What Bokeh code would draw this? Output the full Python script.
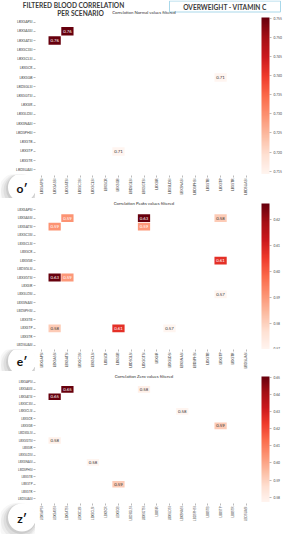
import math
from bokeh.plotting import figure
from bokeh.models import (FactorRange, Range1d, LinearColorMapper, ColorBar, FixedTicker,
                          PrintfTickFormatter, ColumnDataSource)
from bokeh.layouts import column, row
from bokeh.palettes import Reds9
from bokeh.transform import transform
from bokeh.core.properties import value
from bokeh.embed import file_html
from bokeh.resources import INLINE

# ---------------- data ----------------
variables = ["LBXSAPSI", "LBXSASSI", "LBXSATSI", "LBXSC3SI", "LBXSCLSI", "LBXSCR",
             "LBXSGB", "LBDSGLSI", "LBXSGTSI", "LBXSIR", "LBXSLDSI", "LBXSNASI",
             "LBDSPHSI", "LBXSTB", "LBXSTP", "LBXSTR", "LBDSUASI"]

normal_a = ["LBXSASSI", "LBXSGB"]
normal_b = ["LBXSATSI", "LBXSTP"]
normal_r = [0.7553, 0.7141]
normal_ticks = [0.715, 0.720, 0.725, 0.730, 0.735, 0.740, 0.745, 0.750, 0.755]

peaks_a = ["LBXSASSI", "LBXSASSI", "LBXSATSI", "LBXSASSI", "LBXSGB", "LBXSLDSI"]
peaks_b = ["LBXSATSI", "LBXSGTSI", "LBXSGTSI", "LBXSTP", "LBXSTP", "LBXSTP"]
peaks_r = [0.591, 0.626, 0.590, 0.581, 0.607, 0.570]
peaks_ticks = [0.57, 0.58, 0.59, 0.60, 0.61, 0.62]

zero_a = ["LBXSASSI", "LBXSASSI", "LBXSCLSI", "LBXSGB"]
zero_b = ["LBXSATSI", "LBXSGTSI", "LBXSNASI", "LBXSTP"]
zero_r = [0.6503, 0.579, 0.5769, 0.5915]
zero_ticks = [0.58, 0.59, 0.60, 0.61, 0.62, 0.63, 0.64, 0.65]

title_main = ["FILTERED BLOOD CORRELATION", "PER SCENARIO"]
title_box = "OVERWEIGHT - VITAMIN C"
panel_titles = ["Correlation Normal values filtered", "Correlation Peaks values filtered",
                "Correlation Zero values filtered"]
badges = ["o\u2032", "e\u2032", "z\u2032"]

# ---------------- style ----------------
W = 284
FL = 35      # left border (frame left)
FR = 32      # right border
FW = W - FL - FR
CB_X = 226   # colour bar offset from frame left
FONT = "Lato"
TXT = "#3a3a3a"


def lerp_palette(colors, n):
    rgb = [tuple(int(c[i:i + 2], 16) for i in (1, 3, 5)) for c in colors]
    out = []
    for k in range(n):
        t = k / (n - 1) * (len(rgb) - 1)
        i = min(int(t), len(rgb) - 2)
        f = t - i
        c = tuple(round(rgb[i][j] * (1 - f) + rgb[i + 1][j] * f) for j in range(3))
        out.append("#%02x%02x%02x" % c)
    return out


PALETTE = lerp_palette(list(Reds9)[::-1], 256)


def canvas(width, height):
    p = figure(width=width, height=height, x_range=Range1d(0, width),
               y_range=Range1d(height, 0), title=None, output_backend="svg",
               toolbar_location=None, tools="", x_axis_location=None,
               y_axis_location=None, min_border=0, min_border_left=0,
               min_border_right=0, min_border_top=0, min_border_bottom=0,
               outline_line_color=None, frame_align=False)
    p.grid.visible = False
    return p


def header(height):
    p = canvas(W, height)
    p.text(x=[73, 80], y=[4.0, 12.6], text=title_main, text_align="center",
           text_baseline="middle", text_font_size=value("6.6px"),
           text_font=value(FONT), text_font_style="bold", text_color=TXT)
    p.rect(x=[224.5], y=[6], width=[111], height=[11], fill_color="white",
           line_color="#a9d8ea", line_width=1)
    p.text(x=[224.5], y=[6.3], text=[title_box], text_align="center",
           text_baseline="middle", text_font_size=value("6.6px"),
           text_font=value(FONT), text_font_style="bold", text_color=TXT)
    p.text(x=[FL + FW / 2], y=[12.2], text=[panel_titles[0]], text_align="center",
           text_baseline="middle", text_font_size=value("4.3px"),
           text_font=value(FONT), text_color="#333333")
    return p


def heat(a, b, r, ticks, fmt, frame_h, top, fsize, title=None):
    rows = a + b
    cols = b + a
    vals = r + r
    lo, hi = min(r), max(r)
    mapper = LinearColorMapper(palette=PALETTE, low=lo, high=hi)
    tcol = ["#ffffff" if (v - lo) / (hi - lo) > 0.3 else "#333333" for v in vals]
    src = ColumnDataSource(dict(row=rows, col=cols, val=vals,
                                lab=["%.2f" % v for v in vals], tc=tcol))
    p = figure(width=W, height=frame_h + top, x_range=FactorRange(factors=variables),
               y_range=FactorRange(factors=variables[::-1]), title=title,
               output_backend="svg", toolbar_location=None, tools="",
               x_axis_location=None, min_border_left=FL, min_border_right=FR,
               min_border_top=top, min_border_bottom=0, outline_line_color=None,
               frame_align=False)
    if title is not None:
        p.title.align = "center"
        p.title.text_font_size = "4.3px"
        p.title.text_font = FONT
        p.title.text_font_style = "normal"
        p.title.text_color = "#333333"
        p.title.standoff = 0
        p.title.offset = 0
    p.grid.visible = False
    p.rect(x="col", y="row", width=0.96, height=0.92, source=src,
           fill_color=transform("val", mapper), line_color=None)
    p.text(x="col", y="row", text="lab", source=src, text_color="tc",
           text_align="center", text_baseline="middle",
           text_font_size=value("4.3px"), text_font=value(FONT))
    ax = p.yaxis[0]
    ax.axis_line_color = None
    ax.major_tick_out = 2
    ax.major_tick_in = 0
    ax.major_tick_line_color = "#777777"
    ax.major_tick_line_width = 0.5
    ax.minor_tick_line_color = None
    ax.major_label_text_font_size = fsize
    ax.major_label_text_font = FONT
    ax.major_label_text_color = "#444444"
    ax.major_label_standoff = 1
    cb = ColorBar(color_mapper=mapper, ticker=FixedTicker(ticks=ticks),
                  formatter=PrintfTickFormatter(format=fmt),
                  location=(CB_X, 0), width=8, height=frame_h,
                  padding=0, margin=0, orientation="vertical",
                  major_label_text_font_size="3.3px", major_label_text_font=FONT,
                  major_label_text_color="#444444",
                  label_standoff=2, major_tick_out=2, major_tick_in=0,
                  major_tick_line_color="#777777", major_tick_line_width=0.5,
                  bar_line_color=None, background_fill_color=None,
                  border_line_color=None)
    p.add_layout(cb)
    return p


def strip(hp, height, fsize, badge, by):
    bp = canvas(FL, height)
    bx = 21.5
    bp.scatter(x=[bx - 4, bx - 3, bx - 2, bx - 1], y=[by + 5, by + 4, by + 3, by + 1.5],
               size=[40, 36, 33, 30], marker="circle", fill_color="#000000",
               fill_alpha=[0.03, 0.045, 0.06, 0.08], line_color=None)
    bp.scatter(x=[bx], y=[by], size=28, marker="circle", fill_color="white",
               line_color=None)
    bp.text(x=[bx], y=[by + 0.5], text=[badge], text_align="center",
            text_baseline="middle", text_font_size=value("12px"),
            text_font=value(FONT), text_font_style="bold", text_color="#111111")
    xp = figure(width=W - FL, height=height, x_range=hp.x_range, y_range=Range1d(0, 1),
                title=None, output_backend="svg", toolbar_location=None, tools="",
                y_axis_location=None, x_axis_location="below", min_border_left=0,
                min_border_right=FR, min_border_top=0, min_border_bottom=height - 1,
                outline_line_color=None, frame_align=False)
    xp.grid.visible = False
    ax = xp.xaxis[0]
    ax.axis_line_color = None
    ax.major_tick_out = 2
    ax.major_tick_in = 0
    ax.major_tick_line_color = "#777777"
    ax.major_tick_line_width = 0.5
    ax.minor_tick_line_color = None
    ax.major_label_text_font_size = fsize
    ax.major_label_text_font = FONT
    ax.major_label_text_color = "#444444"
    ax.major_label_standoff = 1
    ax.major_label_orientation = math.pi / 2
    return row(bp, xp, spacing=0)


h0 = header(16)
h1 = heat(normal_a, normal_b, normal_r, normal_ticks, "%.3f", 157, 1, "3.5px")
s1 = strip(h1, 24, "3.5px", badges[0], 13)
h2 = heat(peaks_a, peaks_b, peaks_r, peaks_ticks, "%.2f", 146, 5, "3.4px", panel_titles[1])
s2 = strip(h2, 22, "3.4px", badges[1], 11.5)
h3 = heat(zero_a, zero_b, zero_r, zero_ticks, "%.2f", 126, 5, "3.1px", panel_titles[2])
s3 = strip(h3, 32, "3.1px", badges[2], 15)

layout = column(h0, h1, s1, h2, s2, h3, s3, spacing=0)
open("out.html", "w").write(file_html(layout, INLINE))
